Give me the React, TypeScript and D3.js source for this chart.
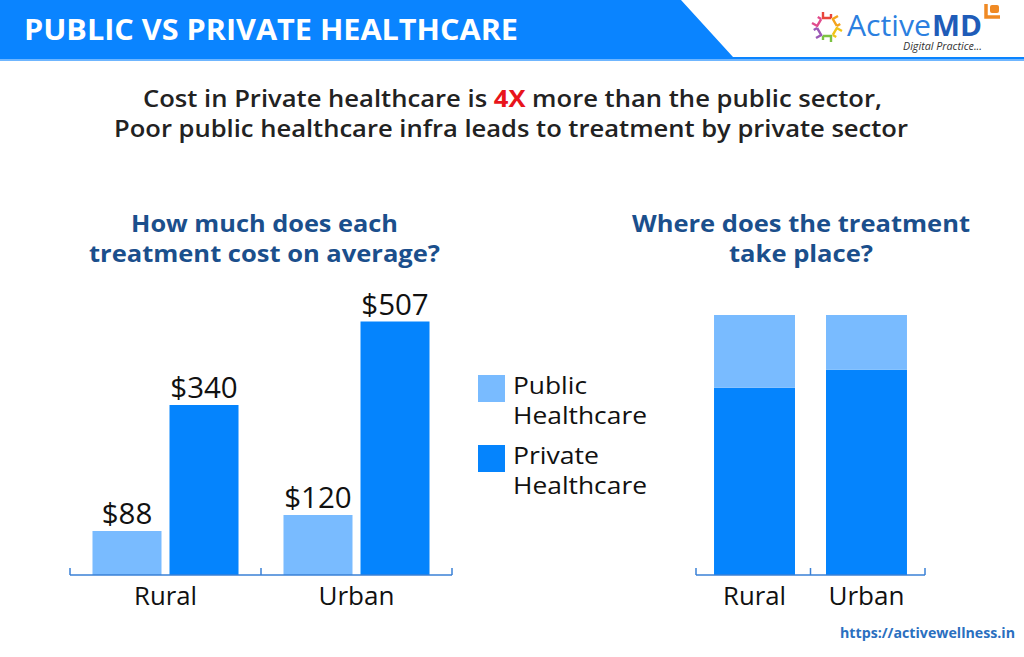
import React from "react";
import * as d3 from "d3";

const title = "PUBLIC VS PRIVATE HEALTHCARE";
const subtitleA = "Cost in Private healthcare is ";
const subtitleHighlight = "4X";
const subtitleB = " more than the public sector,";
const subtitle2 = "Poor public healthcare infra leads to treatment by private sector";
const leftTitle = ["How much does each", "treatment cost on average?"];
const rightTitle = ["Where does the treatment", "take place?"];
const categories = ["Rural", "Urban"];
const series = ["Public", "Private"];
const seriesLabels = [["Public", "Healthcare"], ["Private", "Healthcare"]];
const costPublic = [88, 120];
const costPrivate = [340, 507];
const sharePublic = [28, 21];
const sharePrivate = [72, 79];
const url = "https://activewellness.in";

const LIGHT = "#79bbff";
const DARK = "#0584fd";
const HEADER = "#0a84ff";
const NAVY = "#1b4f8c";
const AXIS = "#3a80d6";
const FONT = "'Open Sans', 'Noto Sans', sans-serif";

export default function App() {
  // Left chart scales
  const xL = d3.scaleBand<string>().domain(categories).range([70, 452]).padding(0);
  const xLi = d3.scaleBand<string>().domain(series).range([0, xL.bandwidth()]).paddingInner(0.104).paddingOuter(0.292);
  const yL = d3.scaleLinear().domain([0, 600]).range([575, 275]);
  const costs = [costPublic, costPrivate];

  // Right chart scales
  const xR = d3.scaleBand<string>().domain(categories).range([696, 925]).paddingInner(0.277).paddingOuter(0.161);
  const yR = d3.scaleLinear().domain([0, 100]).range([575, 315]);
  const stackData = categories.map((c, i) => ({ cat: c, Private: sharePrivate[i], Public: sharePublic[i] }));
  const stacked = d3.stack<any>().keys(["Private", "Public"])(stackData);

  const leftTicks = [70, ...categories.map((c) => (xL(c) as number) + xL.bandwidth())];
  const rightTicks = [696, (696 + 925) / 2, 925];

  // logo icon petals
  const petalColors = ["#e8453c", "#f4a31c", "#f0c419", "#7cc242", "#9b59b6", "#e14b8c"];
  const petals = d3.range(6).map((i) => {
    const a = (i / 6) * Math.PI * 2 - Math.PI / 2;
    return { x: 827 + Math.cos(a) * 12, y: 27 + Math.sin(a) * 12, r: (a * 180) / Math.PI + 90, c: petalColors[i] };
  });

  const catLen: Record<string, number> = { Rural: 63, Urban: 76 };
  const legendLen: Record<string, number> = { Public: 74, Private: 86, Healthcare: 134 };

  return (
    <svg width={1024} height={657} style={{ position: "absolute", left: 0, top: 0, display: "block", background: "#fff" }} fontFamily={FONT}>
      <rect x={0} y={0} width={1024} height={657} fill="#fff" />
      {/* Header */}
      <polygon points="0,0 681,0 733,57 1024,57 1024,60 0,60" fill={HEADER} />
      <rect x={0} y={59} width={1024} height={2} fill="#6fb6ff" />
      <text x={24} y={40} fill="#fff" fontWeight={700} fontSize={29} textLength={494} lengthAdjust="spacingAndGlyphs">{title}</text>

      {/* Logo */}
      {petals.map((p, i) => (
        <g key={i} transform={`translate(${p.x},${p.y}) rotate(${p.r})`}>
          <path d="M-4,-3 L-4,3 L4,3 M4,3 L4,-1" fill="none" stroke={p.c} strokeWidth={2.4} />
        </g>
      ))}
      <text x={847} y={36} fontSize={29} fill="#2b7fe0" fontWeight={400} textLength={84} lengthAdjust="spacingAndGlyphs">Active</text>
      <text x={932} y={36} fontSize={29} fill="#1f5cb8" fontWeight={700} textLength={50} lengthAdjust="spacingAndGlyphs">MD</text>
      <path d="M986,4 L986,17 L1000,17" fill="none" stroke="#f08a24" strokeWidth={3.5} />
      <rect x={990} y={5} width={9} height={8} rx={2} fill="#f08a24" />
      <text x={903} y={50} fontSize={10} fontStyle="italic" fill="#333" textLength={79} lengthAdjust="spacingAndGlyphs">Digital Practice...</text>

      {/* Subtitle */}
      <text x={143} y={107} fontSize={24} fontWeight={600} fill="#222" textLength={739} lengthAdjust="spacingAndGlyphs">
        {subtitleA}
        <tspan fill="#e8141b" fontWeight={700}>{subtitleHighlight}</tspan>
        {subtitleB}
      </text>
      <text x={114} y={137} fontSize={24} fontWeight={600} fill="#222" textLength={794} lengthAdjust="spacingAndGlyphs">{subtitle2}</text>

      {/* Left title */}
      <text x={131} y={232} fontSize={24} fontWeight={700} fill={NAVY} textLength={267} lengthAdjust="spacingAndGlyphs">{leftTitle[0]}</text>
      <text x={89} y={262} fontSize={24} fontWeight={700} fill={NAVY} textLength={351} lengthAdjust="spacingAndGlyphs">{leftTitle[1]}</text>
      {/* Right title */}
      <text x={632} y={232} fontSize={24} fontWeight={700} fill={NAVY} textLength={338} lengthAdjust="spacingAndGlyphs">{rightTitle[0]}</text>
      <text x={729} y={262} fontSize={24} fontWeight={700} fill={NAVY} textLength={144} lengthAdjust="spacingAndGlyphs">{rightTitle[1]}</text>

      {/* Left chart bars */}
      {categories.map((c, ci) => (
        <g key={c} transform={`translate(${xL(c)},0)`}>
          {series.map((s, si) => {
            const v = costs[si][ci];
            const x = xLi(s) as number;
            return (
              <g key={s}>
                <rect x={x} y={yL(v)} width={xLi.bandwidth()} height={yL(0) - yL(v)} fill={si === 0 ? LIGHT : DARK} />
                <text x={x + xLi.bandwidth() / 2} y={yL(v) - 7} textAnchor="middle" fontSize={29.5} fill="#111">{`$${v}`}</text>
              </g>
            );
          })}
          <text x={xL.bandwidth() / 2} y={605} textAnchor="middle" fontSize={25} fill="#111" textLength={catLen[c]} lengthAdjust="spacingAndGlyphs">{c}</text>
        </g>
      ))}
      <line x1={70} x2={452} y1={575} y2={575} stroke={AXIS} strokeWidth={1.5} />
      {leftTicks.map((t, i) => (
        <line key={i} x1={t} x2={t} y1={568} y2={575} stroke={AXIS} strokeWidth={1.5} />
      ))}

      {/* Legend */}
      {seriesLabels.map((lines, i) => (
        <g key={i} transform={`translate(478,${375 + i * 70})`}>
          <rect x={0} y={0} width={27} height={27} fill={i === 0 ? LIGHT : DARK} />
          {lines.map((l, j) => (
            <text key={j} x={35} y={19 + j * 30} fontSize={24} fill="#111" textLength={legendLen[l]} lengthAdjust="spacingAndGlyphs">{l}</text>
          ))}
        </g>
      ))}

      {/* Right chart stacked bars */}
      {stacked.map((layer) => (
        <g key={layer.key} fill={layer.key === "Public" ? LIGHT : DARK}>
          {layer.map((d, i) => (
            <rect key={i} x={xR(categories[i])} y={yR(d[1])} width={xR.bandwidth()} height={yR(d[0]) - yR(d[1])} />
          ))}
        </g>
      ))}
      {categories.map((c) => (
        <text key={c} x={(xR(c) as number) + xR.bandwidth() / 2} y={605} textAnchor="middle" fontSize={25} fill="#111" textLength={catLen[c]} lengthAdjust="spacingAndGlyphs">{c}</text>
      ))}
      <line x1={696} x2={925} y1={575} y2={575} stroke={AXIS} strokeWidth={1.5} />
      {rightTicks.map((t, i) => (
        <line key={i} x1={t} x2={t} y1={568} y2={575} stroke={AXIS} strokeWidth={1.5} />
      ))}

      {/* Footer */}
      <text x={840} y={638} fontSize={14} fontWeight={700} fill="#2a6fbf" textLength={175} lengthAdjust="spacingAndGlyphs">{url}</text>
    </svg>
  );
}
